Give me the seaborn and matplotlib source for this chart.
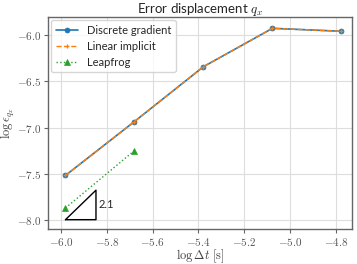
import numpy as np
import pandas as pd
import matplotlib
matplotlib.use("Agg")
import matplotlib.pyplot as plt
import seaborn as sns
from matplotlib.ticker import FuncFormatter

log_dt = [-5.98, -5.679, -5.378, -5.077, -4.776]
err_dg = [-7.52, -6.935, -6.34, -5.924, -5.956]
err_li = [-7.52, -6.935, -6.34, -5.924, -5.956]
log_dt_lf = [-5.98, -5.679]
err_lf = [-7.873, -7.25]
tri_x = [-5.98, -5.847, -5.847, -5.98]
tri_y = [-8.0, -8.0, -7.68, -8.0]
slope_label = "2.1"
x_ticks = [-6.0, -5.8, -5.6, -5.4, -5.2, -5.0, -4.8]
y_ticks = [-8.0, -7.5, -7.0, -6.5, -6.0]

sns.set_theme(style="whitegrid")
plt.rcParams["mathtext.fontset"] = "cm"
plt.rcParams["font.family"] = ["Lato", "DejaVu Sans"]

fig, ax = plt.subplots(figsize=(3.57, 2.64), dpi=100)

df_dg = pd.DataFrame({"x": log_dt, "y": err_dg})
df_li = pd.DataFrame({"x": log_dt, "y": err_li})
df_lf = pd.DataFrame({"x": log_dt_lf, "y": err_lf})

sns.lineplot(data=df_dg, x="x", y="y", ax=ax, color="#1f77b4", marker="o",
             markersize=3.6, linewidth=1.2, markeredgecolor="#1f77b4",
             markeredgewidth=0.5, label="Discrete gradient")
sns.lineplot(data=df_li, x="x", y="y", ax=ax, color="#ff7f0e", marker="+",
             markersize=3.2, linewidth=1.0, linestyle="--", markeredgecolor="#ff7f0e",
             markeredgewidth=0.9, label="Linear implicit")
sns.lineplot(data=df_lf, x="x", y="y", ax=ax, color="#2ca02c", marker="^",
             markersize=3.8, linewidth=1.0, linestyle=":", markeredgecolor="#2ca02c",
             markeredgewidth=0.5, label="Leapfrog")

ax.plot(tri_x, tri_y, color="black", linewidth=1.0)
ax.text(-5.838, -7.84, slope_label, fontsize=8, va="center", ha="left")

ax.set_xlim(-6.057, -4.73)
ax.set_ylim(-8.10, -5.80)
ax.set_xticks(x_ticks)
ax.set_yticks(y_ticks)
fmt = FuncFormatter(lambda v, p: r"$%.1f$" % v)
ax.xaxis.set_major_formatter(fmt)
ax.yaxis.set_major_formatter(fmt)
ax.tick_params(labelsize=8, pad=2, length=3, width=0.8, colors="#666666",
               labelcolor="#555555", direction="out", bottom=True, left=True)
ax.set_xlabel(r"$\log\Delta t\ [\mathrm{s}]$", fontsize=9, labelpad=0, color="#444444")
ax.set_ylabel(r"$\log\epsilon_{q_x}$", fontsize=9, labelpad=0, color="#444444")
ax.set_title(r"Error displacement $q_x$", fontsize=9.5, pad=3)
for s in ax.spines.values():
    s.set_color("#666666")
    s.set_linewidth(1.0)
ax.grid(color="#dddddd", linewidth=0.8)

leg = ax.legend(loc="upper left", fontsize=8, frameon=True, handlelength=2.0,
                borderpad=0.4, labelspacing=0.45, borderaxespad=0.3)

fig.subplots_adjust(left=0.134, right=0.986, top=0.936, bottom=0.133)
fig.savefig("out.png", dpi=100)
